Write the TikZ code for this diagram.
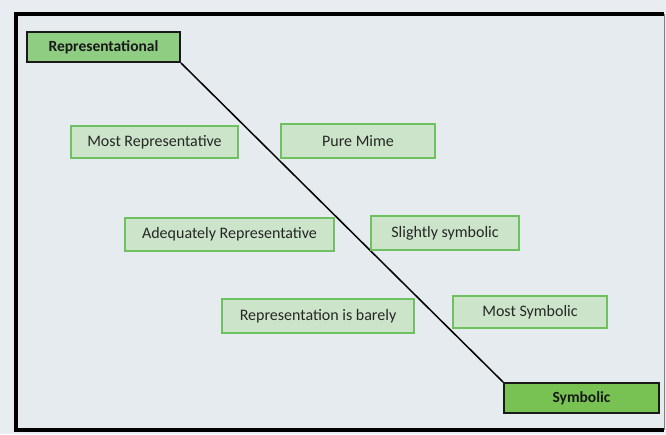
\documentclass[tikz,border=0pt]{standalone}
\usepackage{fontspec}
\setmainfont{Carlito}
\definecolor{bgout}{HTML}{E9EDF1}
\definecolor{bgin}{HTML}{E6EBF0}
\definecolor{lightfill}{HTML}{CCE4CA}
\definecolor{lightedge}{HTML}{6DC25F}
\definecolor{repfill}{HTML}{8FCD83}
\definecolor{symfill}{HTML}{77C252}
\tikzset{
  item/.style={draw=lightedge, line width=1.5pt, fill=lightfill, inner sep=0pt, font=\fontsize{16}{19}\selectfont, text=black!85},
  endbox/.style={draw=black!90, line width=2pt, inner sep=0pt, font=\bfseries\fontsize{15.5}{19}\selectfont, text=black!90},
}
\begin{document}
\begin{tikzpicture}[x=1pt,y=-1pt]
\fill[bgout] (0,0) rectangle (666,434);
\fill[bgin] (16,14) rectangle (664,430);
\draw[line width=3.5pt, black] (664,14) -- (16,14) -- (16,430) -- (664,430);
\draw[line width=1pt, black!50] (664,14) -- (664,430);
\node[endbox, fill=repfill, minimum width=153pt, minimum height=30pt] (rep) at (103.5,47) {Representational};
\node[endbox, fill=symfill, minimum width=155pt, minimum height=30pt] (sym) at (581.5,398) {Symbolic};
\draw[line width=1.5pt] (rep.south east) -- (sym.north west);
\node[item, minimum width=167pt, minimum height=32pt] (mr) at (154.5,142) {Most Representative};
\node[item, minimum width=154pt, minimum height=34pt] (pm) at (358,141) {Pure Mime};
\node[item, minimum width=209pt, minimum height=33pt] (ar) at (229.5,234.5) {Adequately Representative};
\node[item, minimum width=148pt, minimum height=34pt] (ss) at (445,233) {Slightly symbolic};
\node[item, minimum width=192pt, minimum height=34pt] (rb) at (318,316) {Representation is barely};
\node[item, minimum width=154pt, minimum height=32pt] (ms) at (530,312) {Most Symbolic};
\end{tikzpicture}
\end{document}
